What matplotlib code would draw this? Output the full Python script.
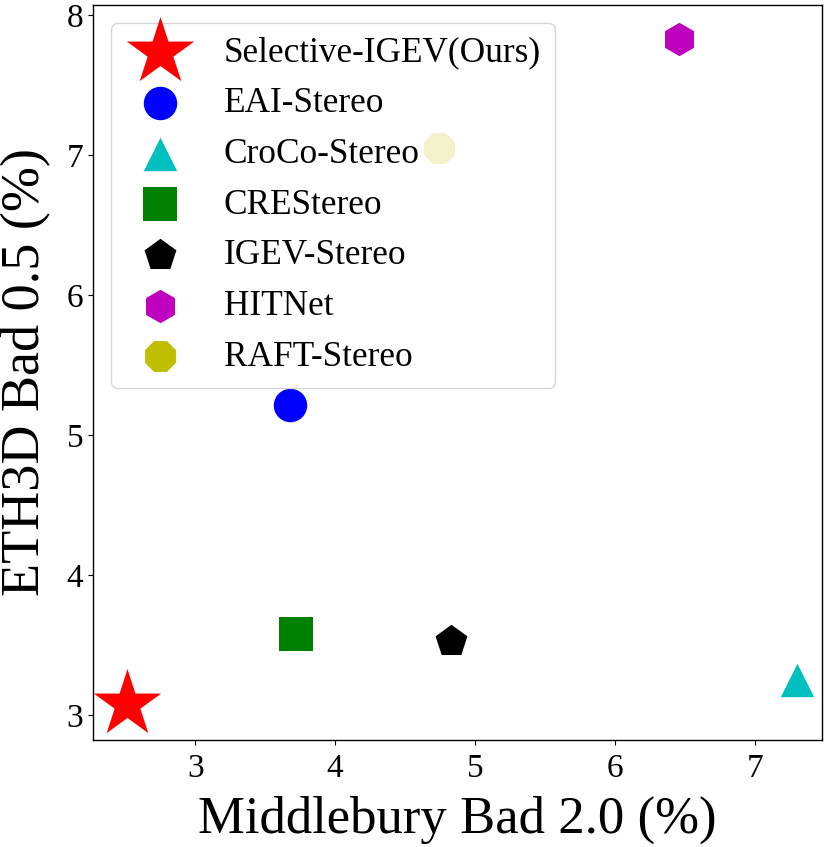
import matplotlib

matplotlib.use("Agg")

import matplotlib.pyplot as plt

plt.rcParams.update(
    {
        "font.family": "serif",
        "font.serif": ["Times New Roman", "Liberation Serif", "DejaVu Serif"],
        "mathtext.fontset": "stix",
    }
)

methods = [
    "Selective-IGEV(Ours)",
    "EAI-Stereo",
    "CroCo-Stereo",
    "CREStereo",
    "IGEV-Stereo",
    "HITNet",
    "RAFT-Stereo",
]
middlebury_bad2 = [2.51, 3.68, 7.30, 3.72, 4.83, 6.46, 4.74]
eth3d_bad05 = [3.08, 5.21, 3.25, 3.58, 3.53, 7.83, 7.05]
markers = ["*", "o", "^", "s", "p", "h", "8"]
colors = ["r", "b", "c", "g", "k", "m", "y"]
sizes = [2600, 580, 580, 580, 580, 580, 580]

fig, ax = plt.subplots(figsize=(8.31, 8.47), dpi=100)
for name, x, y, m, c, s in zip(
    methods, middlebury_bad2, eth3d_bad05, markers, colors, sizes, strict=True
):
    ax.scatter(x, y, marker=m, color=c, s=s, label=name, linewidths=0)

ax.set_xlim(2.27, 7.48)
ax.set_ylim(2.82, 8.07)
ax.set_xticks([3, 4, 5, 6, 7])
ax.set_yticks([3, 4, 5, 6, 7, 8])
ax.tick_params(labelsize=24)
ax.tick_params(axis="x", pad=6.5)
ax.set_xlabel("Middlebury Bad 2.0 (%)", fontsize=38, labelpad=8)
ax.set_ylabel("ETH3D Bad 0.5 (%)", fontsize=39, labelpad=11)
for sp in ax.spines.values():
    sp.set_linewidth(1.0)

ax.legend(loc="upper left", fontsize=25.4, markerscale=1.0, labelspacing=0.5)

fig.subplots_adjust(left=93 / 831, right=822 / 831, top=1 - 5 / 847, bottom=1 - 740 / 847)
fig.savefig("out.png", dpi=100)
